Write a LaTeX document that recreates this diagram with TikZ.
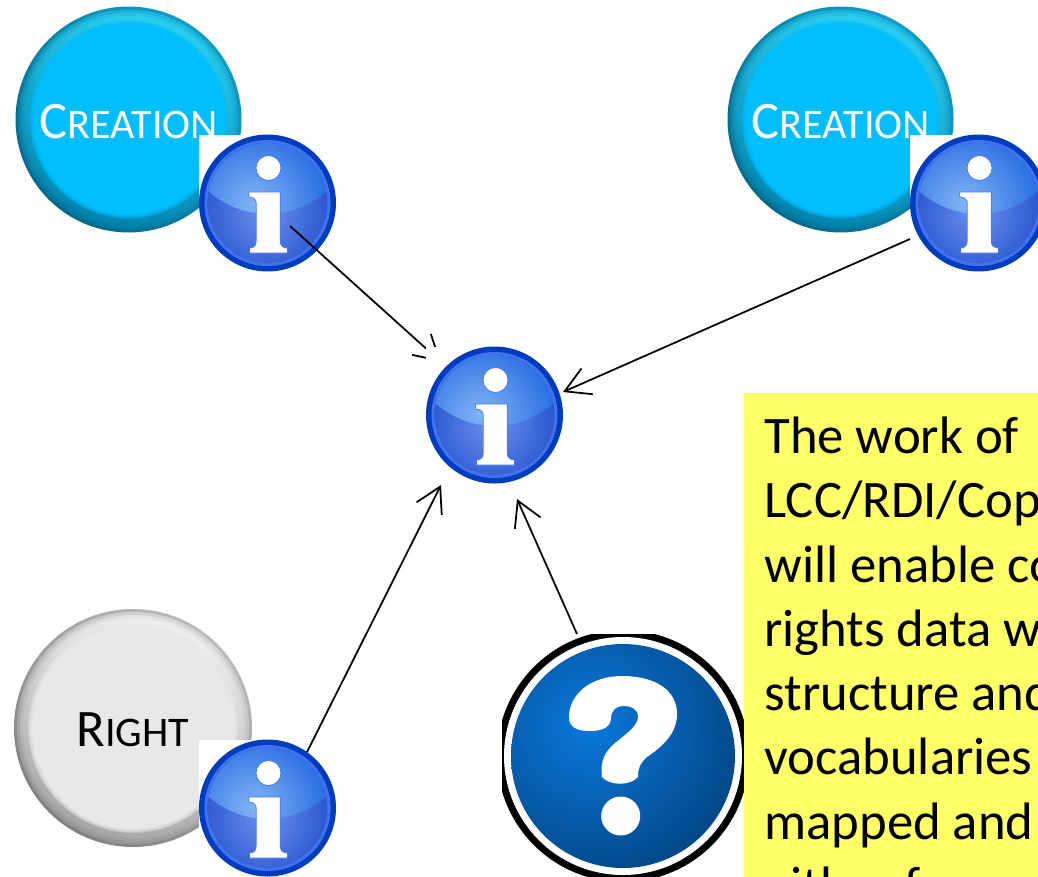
\documentclass[tikz,border=0pt]{standalone}
\usepackage{fontspec}
\setmainfont{Carlito}
\usetikzlibrary{arrows.meta,calc}
\definecolor{creationflat}{RGB}{0,190,255}
\definecolor{creationrimlight}{RGB}{20,180,225}
\definecolor{creationrimdark}{RGB}{0,80,110}
\definecolor{creationglow}{RGB}{50,222,255}
\definecolor{creationband}{RGB}{0,140,185}
\definecolor{rightflat}{RGB}{232,232,232}
\definecolor{rightrimlight}{RGB}{215,215,215}
\definecolor{rightrimdark}{RGB}{100,100,100}
\definecolor{rightglow}{RGB}{255,255,255}
\definecolor{rightband}{RGB}{175,175,175}
\definecolor{inforing}{RGB}{0,60,190}
\definecolor{infolight}{RGB}{65,115,240}
\definecolor{infolow}{RGB}{0,45,185}
\definecolor{infomid}{RGB}{105,145,238}
\definecolor{infotop}{RGB}{10,85,220}
\definecolor{infogloss}{RGB}{130,180,245}
\definecolor{questioninner}{RGB}{10,120,220}
\definecolor{questionouter}{RGB}{0,58,112}
\definecolor{notefill}{RGB}{255,255,102}
\tikzset{
	flow/.style={line width=1pt, -{Straight Barb[length=14pt,width=16pt]}},
	iconsquare/.style={rectangle, fill=white, minimum size=2.74cm, inner sep=0pt},
	capword/.style={circle, minimum size=3.8cm, inner sep=0pt},
	notebox/.style={rectangle, fill=notefill, anchor=north west, inner sep=0pt}
}
\newcommand{\capfont}[2]{{\fontsize{30}{30}\selectfont #1}{\fontsize{24}{24}\selectfont #2}}
% round button: colour prefix, name, centre, radius, text colour, first letter, other letters
\def\roundbutton[#1](#2)(#3,#4)(#5)[#6]#7#8{
	\begin{scope}[shift={(#3,#4)}]
		\begin{scope}
			\clip (0,0) circle (#5);
			\shade[top color=#1rimlight, bottom color=#1rimdark, shading angle=-40] (0,0) circle (#5*2);
		\end{scope}
		\foreach \gap in {3,6,9}
			\shade[top color=#1glow, bottom color=#1band, shading angle=-15, opacity=0.4] (0,0) circle (#5-\gap);
		\foreach \gap in {14,15,16,17}
			\fill[#1flat, opacity=0.4] (0,0) circle (#5-\gap);
		\fill[#1flat] (0,0) circle (#5-18);
		\node[capword, text=#6] (#2) at (0,2) {\capfont{#7}{#8}};
	\end{scope}
}
% info icon: name, centre
\def\infoicon(#1)(#2,#3){
	\node[iconsquare] (#1) at (#2,#3) {};
	\begin{scope}[shift={(#2,#3)}]
		\fill[inforing] (0,0) circle (68.5);
		\fill[infolight] (0,0) circle (63);
		\begin{scope}
			\clip (0,0) circle (60);
			\shade[inner color=infomid, outer color=infolow] (-3,10) circle (110);
			\clip (-70,-70) -- (70,-70) -- (70,-22) .. controls (30,22) and (-30,22) .. (-70,-22) -- cycle;
			\shade[inner color=infogloss, outer color=infotop] (-14,0) circle (100);
		\end{scope}
		\draw[infolight, line width=0.4pt, fill=white] (1,-35) circle (12.5);
		\draw[infolight, line width=0.4pt, fill=white] (-18.7,-11) -- (12.7,-11) -- (12.7,38) .. controls (12.7,43) and (16,45) .. (20,45) -- (20,50) -- (-18,50) -- (-18,45) .. controls (-14,45) and (-11.3,43) .. (-11.3,38) -- (-11.3,0) .. controls (-11.3,-4) and (-15,-6) .. (-18.7,-6) -- cycle;
	\end{scope}
}

\begin{document}
\begin{tikzpicture}[x=0.02cm, y=-0.02cm]
		%%%%% START %%%%%
		\useasboundingbox (0,0) rectangle (1038,876);
		\clip (0,0) rectangle (1038,876);
		\fill[white] (0,0) rectangle (1038,876);
		
		% buttons
		\roundbutton[creation](creationleft)(128.5,119.5)(113)[white]{C}{REATION}
		\roundbutton[creation](creationright)(840.5,119.5)(113)[white]{C}{REATION}
		\roundbutton[right](rightbutton)(133,728)(119)[black]{R}{IGHT}
		
		% small icons
		\infoicon(infoleft)(267.5,203)
		\infoicon(inforight)(978.5,203)
		\infoicon(infobottom)(267.5,808)
		
		% ends of the arrows
		\coordinate (startleft) at (290,226);
		\coordinate (tipleft) at (441,362);
		\coordinate (startright) at (910,239);
		\coordinate (tipright) at (563,392);
		\coordinate (startbottom) at (307,752);
		\coordinate (tipbottom) at (441,485);
		\coordinate (startquestion) at (577,634);
		\coordinate (tipquestion) at (517,499);
		
		\draw[flow] (startleft) -- (tipleft);
		\draw[flow] (startright) -- (tipright);
		\draw[flow] (startbottom) -- (tipbottom);
		\draw[flow] (startquestion) -- (tipquestion);
		
		% middle icon goes over the arrow from the left
		\infoicon(infomiddle)(494.5,415)
		
		% question icon
		\begin{scope}
			\clip (502,634) rectangle (744,880);
			\fill[black] (623,756) circle (126);
			\fill[white] (623,756) circle (119);
			\clip (623,756) circle (112);
			\shade[inner color=questioninner, outer color=questionouter] (590,725) circle (200);
		\end{scope}
		\node[circle, fill=white, minimum size=0.78cm, inner sep=0pt] (questiondot) at (620.7,816) {};
		\fill[white] (569,717) .. controls (569,695) and (590,676) .. (622,676)
			.. controls (655,676) and (677,690) .. (677,714)
			.. controls (677,735) and (660,748) .. (647,757)
			.. controls (640,763) and (638,768) .. (638,777)
			.. controls (630,786) and (610,786) .. (602,777)
			.. controls (600,760) and (605,752) .. (615,743)
			.. controls (625,735) and (638,726) .. (638,717)
			.. controls (638,708) and (630,706) .. (624,706)
			.. controls (614,706) and (611,713) .. (611,718)
			.. controls (611,726) and (604,731) .. (590,731)
			.. controls (578,731) and (569,728) .. (569,717) -- cycle;
		
		% note
		\node[notebox, minimum width=6.2cm, minimum height=10cm] (note) at (744,393) {};
		\node[anchor=north west, align=left, inner sep=0pt, font=\fontsize{30}{36.6}\selectfont] (notetext) at (764,416.5) {The work of\\LCC/RDI/Cop\\will enable co\\rights data w\\structure and\\vocabularies\\mapped and\\either for au};
		%%%%% END %%%%%
	\end{tikzpicture}
\end{document}
